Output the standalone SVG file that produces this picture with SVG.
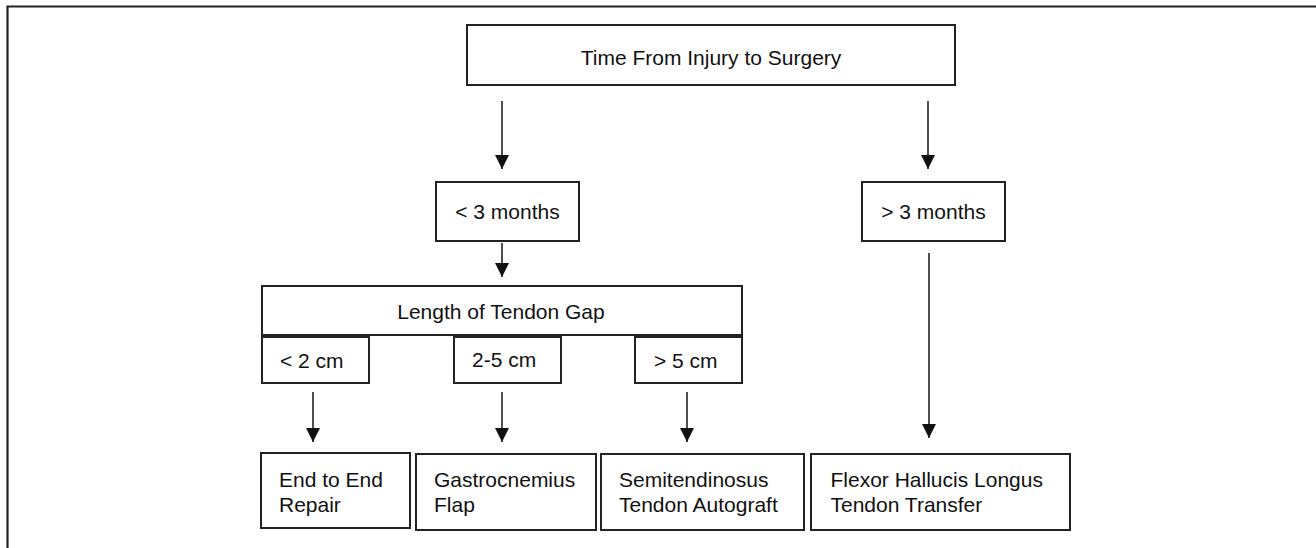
<svg xmlns="http://www.w3.org/2000/svg" width="1316" height="548" viewBox="0 0 1316 548">
<style>
.box{fill:#fff;stroke:#222;stroke-width:2}
.t{font-family:"Liberation Sans",Arial,sans-serif;font-size:21px;fill:#111}
.m{text-anchor:middle}
.c{stroke:#222;stroke-width:1.6;fill:none}
.frame{stroke:#222;stroke-width:2.2;fill:none}
</style>
<defs>
<marker id="ah" viewBox="0 0 14 14" refX="14" refY="7" markerWidth="14" markerHeight="14" markerUnits="userSpaceOnUse" orient="auto">
<path d="M0,0 L14,7 L0,14 z" fill="#111"/>
</marker>
</defs>
<rect width="1316" height="548" fill="#fff"/>
<path class="frame" d="M7.5,548 L7.5,6.5 L1316,6.5"/>
<g id="connectors">
<line class="c" x1="502" y1="101" x2="502" y2="169" marker-end="url(#ah)"/>
<line class="c" x1="928" y1="101" x2="928" y2="169" marker-end="url(#ah)"/>
<line class="c" x1="502" y1="243" x2="502" y2="277" marker-end="url(#ah)"/>
<line class="c" x1="929" y1="253" x2="929" y2="438" marker-end="url(#ah)"/>
<line class="c" x1="313" y1="392" x2="313" y2="442" marker-end="url(#ah)"/>
<line class="c" x1="502" y1="392" x2="502" y2="442" marker-end="url(#ah)"/>
<line class="c" x1="687" y1="392" x2="687" y2="442" marker-end="url(#ah)"/>
</g>
<g id="time">
<rect class="box" x="467" y="25" width="488" height="60"/>
<text class="t m" x="711" y="65">Time From Injury to Surgery</text>
</g>
<g id="lt3">
<rect class="box" x="436" y="182" width="143" height="59"/>
<text class="t m" x="507.5" y="219">&lt; 3 months</text>
</g>
<g id="gt3">
<rect class="box" x="862" y="182" width="143" height="59"/>
<text class="t m" x="933.5" y="219">&gt; 3 months</text>
</g>
<g id="gap">
<rect class="box" x="262" y="286" width="480" height="49"/>
<text class="t m" x="501" y="319">Length of Tendon Gap</text>
</g>
<g id="lt2">
<rect class="box" x="262" y="337" width="107" height="46"/>
<text class="t" x="280" y="368">&lt; 2 cm</text>
</g>
<g id="mid">
<rect class="box" x="454" y="337" width="107" height="46"/>
<text class="t" x="472" y="366.5">2-5 cm</text>
</g>
<g id="gt5">
<rect class="box" x="635" y="337" width="107" height="46"/>
<text class="t" x="654" y="368">&gt; 5 cm</text>
</g>
<g id="endtoend">
<rect class="box" x="261" y="453" width="149" height="75"/>
<text class="t" x="279" y="487">End to End</text>
<text class="t" x="279" y="511.5">Repair</text>
</g>
<g id="gastro">
<rect class="box" x="416" y="454" width="180" height="76"/>
<text class="t" x="434" y="487">Gastrocnemius</text>
<text class="t" x="434" y="511.5">Flap</text>
</g>
<g id="semi">
<rect class="box" x="601" y="454" width="203" height="76"/>
<text class="t" x="619" y="487">Semitendinosus</text>
<text class="t" x="619" y="511.5">Tendon Autograft</text>
</g>
<g id="fhl">
<rect class="box" x="811" y="454" width="259" height="76"/>
<text class="t" x="830.5" y="486.5">Flexor Hallucis Longus</text>
<text class="t" x="830.5" y="511.5">Tendon Transfer</text>
</g>
</svg>
